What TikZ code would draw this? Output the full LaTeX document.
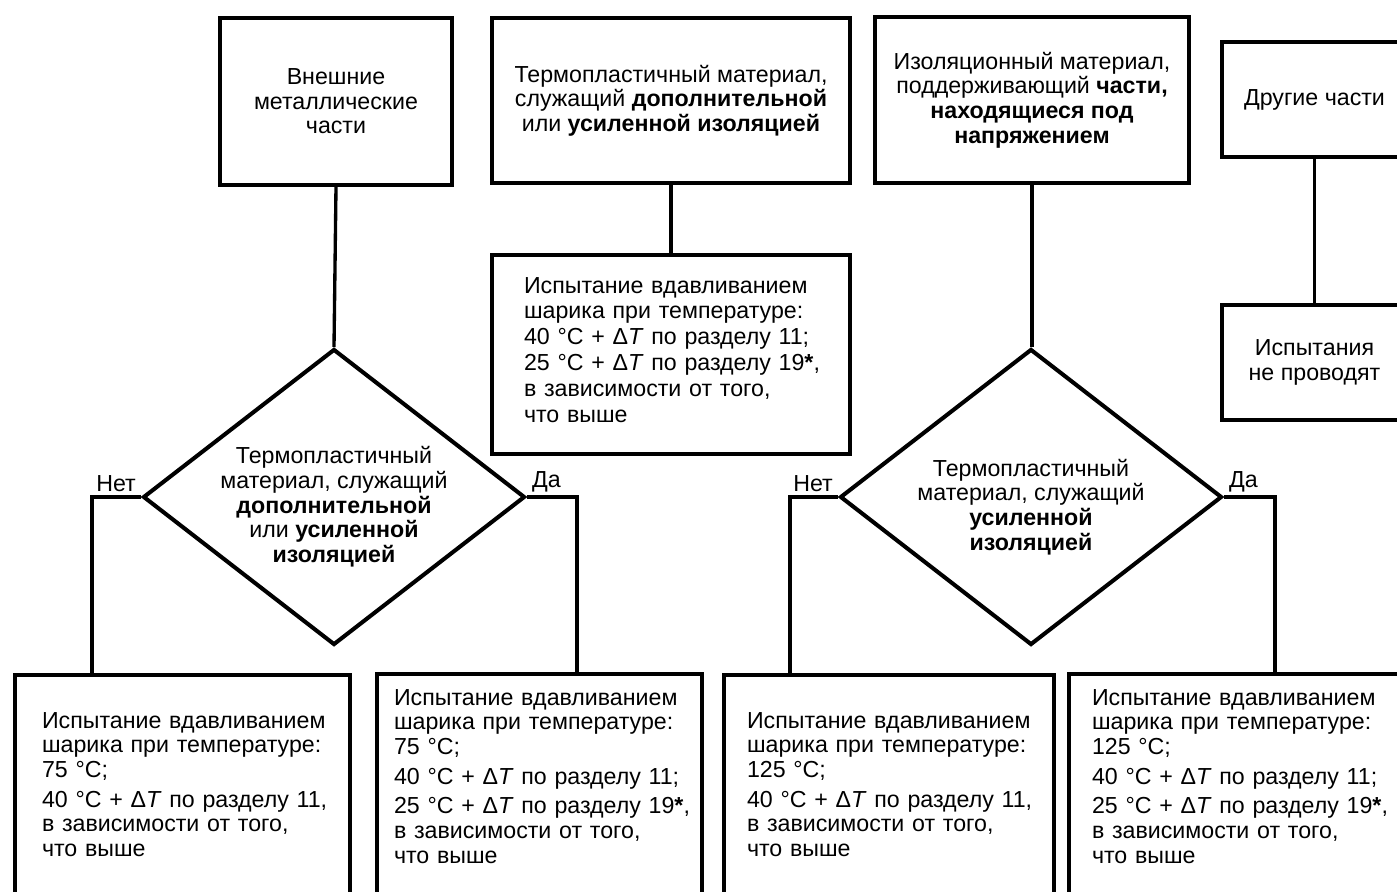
\documentclass[tikz,border=0pt]{standalone}
\usepackage{fontspec}
\setmainfont{Liberation Sans}
\usetikzlibrary{shapes.geometric,calc}

\tikzset{
  frame/.style={draw, line width=2.3pt},
  part/.style={frame, anchor=north west, align=center, inner sep=0pt},
  probe/.style={frame, anchor=north west, align=left, inner sep=0pt, text width=#1},
  lead/.style={execute at begin node={\leftskip=#1}},
  query/.style={frame, diamond, align=center, inner sep=-1cm,
    minimum width=7.64cm, minimum height=5.92cm},
  link/.style={line width=1.9pt},
  answer/.style={inner sep=2pt}
}
\newcommand{\dT}{Δ\textit{T}}
\newcommand{\lift}{\rule{0pt}{0.74cm}}

\begin{document}
\begin{tikzpicture}[x=0.02cm, y=-0.02cm, font=\fontsize{13.2}{14}\selectfont]
\useasboundingbox (0,0) rectangle (1397,892);

% top row
\node[part, minimum width=4.64cm, minimum height=3.34cm] (metal) at (218,16)
  {Внешние\\металлические\\части};
\node[part, minimum width=7.16cm, minimum height=3.3cm] (extra) at (490,16)
  {Термопластичный материал,\\служащий \textbf{дополнительной}\\или \textbf{усиленной изоляцией}};
\node[part, minimum width=6.28cm, minimum height=3.32cm] (carrier) at (873,15)
  {Изоляционный материал,\\поддерживающий \textbf{части,}\\\textbf{находящиеся под}\\\textbf{напряжением}};
\node[part, minimum width=3.7cm, minimum height=2.3cm] (other) at (1220,40)
  {Другие части};

% middle
\node[probe=7.16cm, lead=0.64cm, text height=0.76cm, text depth=3.22cm,
  font=\fontsize{13.2}{14.7}\selectfont] (ball) at (490,253)
  {Испытание вдавливанием\\шарика при температуре:\\40 °C + \dT{} по разделу 11;\\
   25 °C + \dT{} по разделу 19\textbf{*},\\в зависимости от того,\\что выше};
\node[part, minimum width=3.7cm, minimum height=2.3cm] (none) at (1220,303)
  {Испытания\\не проводят};

\node[query] (ask1) at (334,497)
  {\lift Термопластичный\\материал, служащий\\\textbf{дополнительной}\\или \textbf{усиленной}\\\textbf{изоляцией}};
\node[query] (ask2) at (1031,497)
  {\lift Термопластичный\\материал, служащий\\\textbf{усиленной}\\\textbf{изоляцией}};

% bottom row
\node[probe=6.7cm, lead=0.54cm, text height=1.06cm, text depth=3.58cm] (low1) at (13,673)
  {Испытание вдавливанием\\шарика при температуре:\\75 °C;\\[3pt]
   40 °C + \dT{} по разделу 11,\\в зависимости от того,\\что выше};
\node[probe=6.5cm, lead=0.34cm, text height=0.62cm, text depth=4.04cm] (low2) at (375,672)
  {Испытание вдавливанием\\шарика при температуре:\\75 °C;\\[3pt]
   40 °C + \dT{} по разделу 11;\\[3pt]25 °C + \dT{} по разделу 19\textbf{*},\\
   в зависимости от того,\\что выше};
\node[probe=6.6cm, lead=0.46cm, text height=1.06cm, text depth=3.58cm] (low3) at (722,673)
  {Испытание вдавливанием\\шарика при температуре:\\125 °C;\\[3pt]
   40 °C + \dT{} по разделу 11,\\в зависимости от того,\\что выше};
\node[probe=6.76cm, lead=0.46cm, text height=0.62cm, text depth=4.04cm] (low4) at (1067,672)
  {Испытание вдавливанием\\шарика при температуре:\\125 °C;\\[3pt]
   40 °C + \dT{} по разделу 11;\\[3pt]25 °C + \dT{} по разделу 19\textbf{*},\\
   в зависимости от того,\\что выше};

% connectors
\draw[link] (metal.south) -- (ask1.north);
\draw[link] (extra.south) -- (extra.south |- ball.north);
\draw[link] (carrier.south) -- (carrier.south |- ask2.north);
\draw[link] (other.south) -- (none.north);
\draw[link] (ask1.west) -| ($(low1.north west)+(79,0)$)
  node[answer, pos=0, anchor=south east] (no1) {Нет};
\draw[link] (ask1.east) -| ($(low2.north west)+(202,0)$)
  node[answer, pos=0, anchor=south west] (yes1) {Да};
\draw[link] (ask2.west) -| ($(low3.north west)+(68,0)$)
  node[answer, pos=0, anchor=south east] (no2) {Нет};
\draw[link] (ask2.east) -| ($(low4.north west)+(208,0)$)
  node[answer, pos=0, anchor=south west] (yes2) {Да};
\end{tikzpicture}
\end{document}
